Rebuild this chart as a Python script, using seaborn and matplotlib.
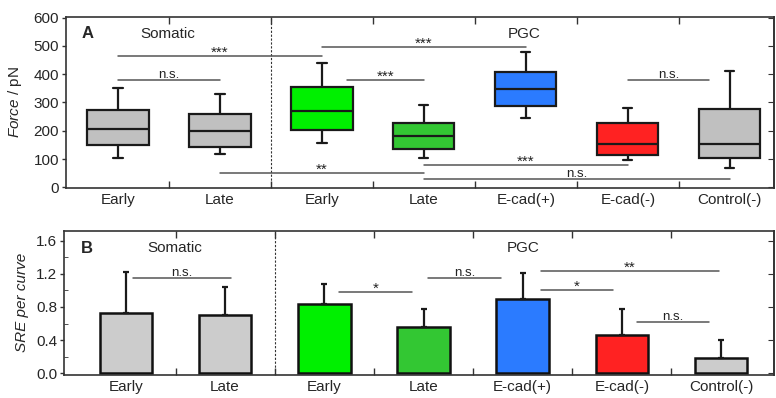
import matplotlib
matplotlib.use('Agg')
import matplotlib.pyplot as plt
import numpy as np
import pandas as pd
import seaborn as sns

sns.set_style('ticks')
plt.rcParams['font.family'] = ['Liberation Sans', 'DejaVu Sans']
plt.rcParams['mathtext.fontset'] = 'custom'
plt.rcParams['mathtext.rm'] = 'Liberation Sans'
plt.rcParams['mathtext.it'] = 'Liberation Sans:italic'

# groups and labels
groups = ['Somatic Early', 'Somatic Late', 'PGC Early', 'PGC Late', 'E-cad(+)', 'E-cad(-)', 'Control(-)']
tick_labels = ['Early', 'Late', 'Early', 'Late', 'E-cad(+)', 'E-cad(-)', 'Control(-)']
box_colors = ['#c0c0c0', '#c0c0c0', '#00f000', '#33c733', '#2b7bff', '#ff2222', '#c0c0c0']
bar_colors = ['#cccccc', '#cccccc', '#00f000', '#33c733', '#2b7bff', '#ff2222', '#cccccc']

# panel A: force box summaries (pN)
force_low = [104, 116, 155, 104, 245, 97, 67]
force_q1 = [149, 144, 201, 137, 289, 115, 103]
force_med = [205, 200, 271, 181, 347, 152, 154]
force_q3 = [272, 260, 356, 228, 408, 226, 277]
force_high = [351, 331, 441, 291, 480, 282, 412]

# panel B: SRE per curve, mean and upper error
sre_mean = [0.73, 0.70, 0.84, 0.56, 0.895, 0.458, 0.188]
sre_err = [0.49, 0.34, 0.24, 0.215, 0.32, 0.317, 0.21]

# significance brackets: (x from, x to, y, label)
force_sig = [(0, 2, 466, '***'), (2, 4, 498, '***'), (0, 1, 380, 'n.s.'),
             (2.25, 3, 380, '***'), (5, 5.8, 380, 'n.s.'), (1, 3, 52, '**'),
             (3, 5, 78, '***'), (3, 6, 30, 'n.s.')]
sre_sig = [(0.07, 1.06, 1.15, 'n.s.'), (2.15, 2.88, 0.98, '*'), (3.05, 3.78, 1.15, 'n.s.'),
           (4.18, 5.975, 1.23, '**'), (4.18, 4.91, 1.01, '*'), (5.15, 5.88, 0.62, 'n.s.')]

# five values per group -> seaborn quartiles reproduce the summary exactly
rows = []
for g, vals in zip(groups, zip(force_low, force_q1, force_med, force_q3, force_high)):
    for v in vals:
        rows.append({'group': g, 'force': v})
df_force = pd.DataFrame(rows)
df_sre = pd.DataFrame({'group': groups, 'sre': sre_mean})

fig = plt.figure(figsize=(7.76, 3.98), dpi=100)
ax1 = fig.add_axes([0.085, 0.528, 0.912, 0.429])
ax2 = fig.add_axes([0.083, 0.0585, 0.914, 0.3618])

sns.boxplot(data=df_force, x='group', y='force', hue='group', order=groups, hue_order=groups,
            palette=box_colors, whis=(0, 100), width=0.6, linewidth=1.6, linecolor='#1a1a1a',
            saturation=1, legend=False, capwidths=0.09, ax=ax1)

sns.barplot(data=df_sre, x='group', y='sre', hue='group', order=groups, hue_order=groups,
            palette=bar_colors, width=0.53, edgecolor='#111111', linewidth=1.8,
            saturation=1, errorbar=None, legend=False, ax=ax2)
x = np.arange(len(groups))
ax2.errorbar(x, sre_mean, yerr=[np.zeros(len(x)), sre_err], fmt='none', ecolor='#1a1a1a',
             elinewidth=1.6, capsize=2, capthick=1.6, zorder=1)

def bracket(ax, sig):
    for x0, x1, y, lab in sig:
        ax.plot([x0, x1], [y, y], color='#555555', lw=1.1, zorder=3)
        if '*' in lab:
            size, off = 11, -0.6
        else:
            size, off = 9.5, 1.5
        ax.annotate(lab, ((x0 + x1) / 2, y), xytext=(0, off), textcoords='offset points',
                    ha='center', va='baseline', fontsize=size, color='#222222')

bracket(ax1, force_sig)
bracket(ax2, sre_sig)

ax1.set_xlim(-0.51, 6.43)
ax1.set_ylim(-2, 602)
ax2.set_xlim(-0.62, 6.53)
ax2.set_ylim(-0.017, 1.72)
ax1.set_yticks([0, 100, 200, 300, 400, 500, 600])
ax2.set_yticks([0.0, 0.4, 0.8, 1.2, 1.6])
ax2.set_yticks([0.2, 0.6, 1.0, 1.4], minor=True)
ax2.yaxis.set_major_formatter(matplotlib.ticker.FormatStrFormatter('%.1f'))

for ax in (ax1, ax2):
    ax.set_xticks(x)
    ax.set_xticklabels(tick_labels, fontsize=11)
    ax.set_xticks(x[:-1] + 0.5, minor=True)
    ax.tick_params(axis='x', which='major', length=0, pad=4)
    ax.tick_params(axis='x', which='minor', direction='in', length=5, top=True, bottom=True,
                   color='#333333', width=1)
    ax.tick_params(axis='y', which='major', direction='out', length=3, labelsize=11,
                   color='#333333', width=1, pad=2)
    ax.tick_params(axis='y', which='minor', direction='in', length=3, color='#333333')
    sec = ax.secondary_yaxis('right')
    sec.set_yticks(ax.get_yticks())
    sec.tick_params(direction='in', length=4, labelright=False, color='#333333')
    for sp in ax.spines.values():
        sp.set_visible(True)
        sp.set_color('#333333')
        sp.set_linewidth(1.2)
    sec.spines['right'].set_color('#333333')
    sec.spines['right'].set_linewidth(1.2)
    ax.axvline(1.5, color='#333333', lw=0.8, ls=(0, (2, 1.5)), zorder=0)
    ax.set_xlabel('')

ax1.set_ylabel(r'$\mathit{Force}$ / pN', fontsize=11)
ax1.yaxis.set_label_coords(-0.059, 0.5)
ax2.set_ylabel('SRE per curve', fontsize=11, fontstyle='italic')
ax2.yaxis.set_label_coords(-0.05, 0.5)

ax1.text(-0.30, 543, 'A', fontsize=12, fontweight='bold', ha='center', va='center')
ax1.text(0.49, 543, 'Somatic', fontsize=11, ha='center', va='center')
ax1.text(3.98, 543, 'PGC', fontsize=11, ha='center', va='center')
ax2.text(-0.39, 1.51, 'B', fontsize=12, fontweight='bold', ha='center', va='center')
ax2.text(0.49, 1.51, 'Somatic', fontsize=11, ha='center', va='center')
ax2.text(4.0, 1.51, 'PGC', fontsize=11, ha='center', va='center')

plt.savefig('out.png', dpi=100)
